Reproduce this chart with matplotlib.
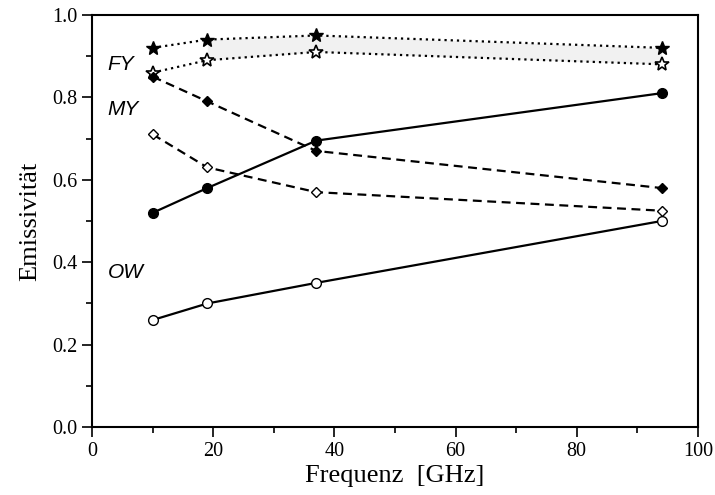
import matplotlib
matplotlib.use("Agg")
import matplotlib.pyplot as plt
from matplotlib.ticker import MultipleLocator

freq = [10, 19, 37, 94]
fy_filled = [0.92, 0.94, 0.95, 0.92]
fy_open = [0.86, 0.89, 0.91, 0.88]
my_filled = [0.85, 0.79, 0.67, 0.58]
my_open = [0.71, 0.63, 0.57, 0.525]
ow_filled = [0.52, 0.58, 0.695, 0.81]
ow_open = [0.26, 0.30, 0.35, 0.50]

fig = plt.figure(figsize=(7.15, 4.95), dpi=100)
ax = fig.add_axes([0.129, 0.137, 0.847, 0.833])

serif = ["Liberation Serif", "DejaVu Serif"]
sans = ["Liberation Sans", "DejaVu Sans"]

ax.fill_between(freq[1:], fy_open[1:], fy_filled[1:], color="#f1f1f1", lw=0, zorder=1)

lw = 1.6
ax.plot(freq, fy_filled, ls=(0, (1, 1.8)), color="black", lw=lw, marker="*", ms=10,
        mfc="black", mec="black", zorder=3)
ax.plot(freq, fy_open, ls=(0, (1, 1.8)), color="black", lw=lw, marker="*", ms=10,
        mfc="white", mec="black", mew=1.2, zorder=3)
ax.plot(freq, my_filled, ls=(0, (4, 2.5)), color="black", lw=lw, marker="D", ms=5.5,
        mfc="black", mec="black", zorder=3)
ax.plot(freq, my_open, ls=(0, (4, 2.5)), color="black", lw=lw, marker="D", ms=5.5,
        mfc="white", mec="black", mew=1.0, zorder=3)
ax.plot(freq, ow_filled, ls="-", color="black", lw=lw, marker="o", ms=7,
        mfc="black", mec="black", zorder=3)
ax.plot(freq, ow_open, ls="-", color="black", lw=lw, marker="o", ms=7,
        mfc="white", mec="black", mew=1.0, zorder=3)

ax.text(2.5, 0.879, "FY", style="italic", fontsize=15, family=sans, va="center", ha="left")
ax.text(2.5, 0.77, "MY", style="italic", fontsize=15, family=sans, va="center", ha="left")
ax.text(2.5, 0.376, "OW", style="italic", fontsize=15, family=sans, va="center", ha="left")

ax.set_xlim(0, 100)
ax.set_ylim(0, 1.0)
ax.xaxis.set_major_locator(MultipleLocator(20))
ax.xaxis.set_minor_locator(MultipleLocator(10))
ax.yaxis.set_major_locator(MultipleLocator(0.2))
ax.yaxis.set_minor_locator(MultipleLocator(0.1))
ax.yaxis.set_major_formatter(matplotlib.ticker.FormatStrFormatter("%.1f"))
ax.tick_params(which="both", direction="out", top=False, right=False, width=1.2)
ax.tick_params(which="major", length=7, labelsize=14.5)
ax.tick_params(which="minor", length=4)
for lab in ax.get_xticklabels() + ax.get_yticklabels():
    lab.set_family(serif)
for s in ax.spines.values():
    s.set_linewidth(1.5)

ax.set_xlabel("Frequenz  [GHz]", fontsize=19, family=serif, labelpad=3)
ax.set_ylabel("Emissivität", fontsize=19, family=serif, labelpad=8)

fig.savefig("out.png", dpi=100)
